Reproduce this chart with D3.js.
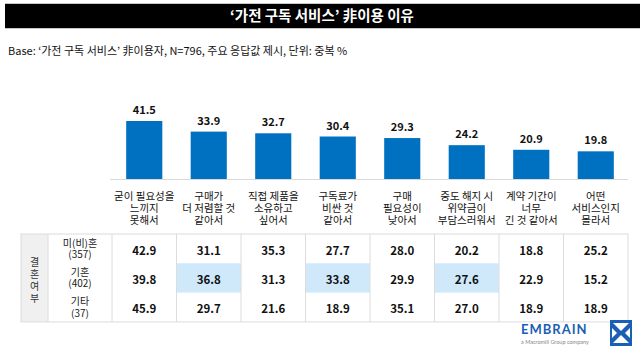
<!DOCTYPE html>
<html><head><meta charset="utf-8">
<script src="https://cdn.jsdelivr.net/npm/d3@7"></script>
<style>
html,body{margin:0;padding:0;background:#fff;}
svg{display:block;font-family:"Noto Sans CJK KR","Noto Sans",sans-serif;}
</style></head>
<body>
<svg id="chart" width="640" height="356"></svg>
<script>
const title = "‘가전 구독 서비스’ 非이용 이유";
const subtitle = "Base: ‘가전 구독 서비스’ 非이용자, N=796, 주요 응답값 제시, 단위: 중복 %";
const categories = [
  ["굳이 필요성을","느끼지","못해서"],
  ["구매가","더 저렴할 것","같아서"],
  ["직접 제품을","소유하고","싶어서"],
  ["구독료가","비싼 것","같아서"],
  ["구매","필요성이","낮아서"],
  ["중도 해지 시","위약금이","부담스러워서"],
  ["계약 기간이","너무","긴 것 같아서"],
  ["어떤","서비스인지","몰라서"]
];
const totals = [41.5, 33.9, 32.7, 30.4, 29.3, 24.2, 20.9, 19.8];
const groupTitle = ["결","혼","여","부"];
const rowLabels = [["미(비)혼","(357)"],["기혼","(402)"],["기타","(37)"]];
const unmarried = [42.9, 31.1, 35.3, 27.7, 28.0, 20.2, 18.8, 25.2];
const married   = [39.8, 36.8, 31.3, 33.8, 29.9, 27.6, 22.9, 15.2];
const others    = [45.9, 29.7, 21.6, 18.9, 35.1, 27.0, 18.9, 18.9];
const highlights = [[1,1],[1,3],[1,5]]; // [row, col]

const svg = d3.select("#chart");
const fmt = d3.format(".1f");

// title bar
svg.append("rect").attr("x",5).attr("y",3).attr("width",635).attr("height",26).attr("fill","#c8c8c8");
svg.append("rect").attr("x",5).attr("y",4).attr("width",635).attr("height",24).attr("fill","#000");
svg.append("text").attr("x",322).attr("y",21).attr("text-anchor","middle")
  .attr("fill","#fff").attr("font-size",14.5).attr("font-weight",700).text(title);
svg.append("text").attr("x",8).attr("y",55).attr("fill","#111")
  .attr("font-size",11).attr("font-weight",400).text(subtitle);

// scales
const x = d3.scaleBand().domain(d3.range(categories.length)).range([112, 628]).padding(0);
const y = d3.scaleLinear().domain([0, 41.5]).range([179, 121]);
const barW = x.bandwidth()*0.56;

// baseline
svg.append("line").attr("x1",110).attr("x2",628).attr("y1",y(0)+0.5).attr("y2",y(0)+0.5)
  .attr("stroke","#d9d9d9").attr("stroke-width",1);

svg.selectAll("rect.bar").data(totals).join("rect").attr("class","bar")
  .attr("x",(d,i)=>x(i)+x.bandwidth()/2-barW/2).attr("width",barW)
  .attr("y",d=>y(d)).attr("height",d=>y(0)-y(d)).attr("fill","#0070c0");

svg.selectAll("text.val").data(totals).join("text").attr("class","val")
  .attr("x",(d,i)=>x(i)+x.bandwidth()/2).attr("y",d=>y(d)-7)
  .attr("text-anchor","middle").attr("font-size",11).attr("font-weight",700).attr("fill","#111")
  .text(d=>fmt(d));

const catG = svg.selectAll("g.cat").data(categories).join("g").attr("class","cat");
catG.each(function(lines,i){
  lines.forEach((l,j)=>d3.select(this).append("text").attr("text-anchor","middle")
    .attr("font-size",10.5).attr("fill","#111")
    .attr("x",x(i)+x.bandwidth()/2).attr("y",199.5+j*12).text(l));
});

// table
const rows = [unmarried, married, others];
const tTop = 234, rowH = 29.3;
const rowY = d3.scaleBand().domain(d3.range(3)).range([tTop, tTop+3*rowH]);
const tbl = svg.append("g");
// group column
tbl.append("rect").attr("x",21).attr("y",tTop).attr("width",27).attr("height",3*rowH).attr("fill","#f0f0f0");
// highlights
highlights.forEach(([r,c])=>{
  tbl.append("rect").attr("x",x(c)).attr("y",rowY(r)).attr("width",x.bandwidth()).attr("height",rowY.bandwidth())
    .attr("fill","#cfe9fb");
});
// borders
const bc = "#dcdcdc";
tbl.append("rect").attr("x",21).attr("y",tTop).attr("width",628-21).attr("height",3*rowH)
  .attr("fill","none").attr("stroke",bc).attr("stroke-width",1);
[48,112].concat(d3.range(1,categories.length).map(i=>x(i))).forEach(xx=>{
  tbl.append("line").attr("x1",xx).attr("x2",xx).attr("y1",tTop).attr("y2",tTop+3*rowH)
    .attr("stroke",bc).attr("stroke-width",1);
});
// group title
groupTitle.forEach((c,j)=>tbl.append("text").attr("text-anchor","middle").attr("font-size",10).attr("fill","#333")
  .attr("x",34.5).attr("y",tTop+32+j*12).text(c));
// row labels
rowLabels.forEach((lab,r)=>{
  lab.forEach((l,j)=>tbl.append("text").attr("text-anchor","middle").attr("font-size",10).attr("fill","#222")
    .attr("x",80).attr("y",rowY(r)+12.5+j*11.5).text(l));
});
// values
rows.forEach((vals,r)=>{
  tbl.selectAll(null).data(vals).join("text")
    .attr("x",(d,i)=>x(i)+x.bandwidth()/2).attr("y",rowY(r)+rowY.bandwidth()/2+6)
    .attr("text-anchor","middle").attr("font-size",11.5).attr("font-weight",700).attr("fill","#111")
    .text(d=>fmt(d));
});

// logo
const logo = svg.append("g");
logo.append("text").attr("x",521).attr("y",334).attr("font-size",13).attr("font-weight",700)
  .attr("fill","#1a5fb4").attr("letter-spacing",1).attr("font-family","Lato, sans-serif").text("EMBRAIN");
logo.append("text").attr("x",521).attr("y",344).attr("font-size",5.5).attr("fill","#888")
  .attr("font-family","Lato, sans-serif").text("a Macromill Group company");
const ix=610, iy=320, s=22;
logo.append("rect").attr("x",ix).attr("y",iy).attr("width",s).attr("height",s+4).attr("fill","#1a5fb4");
const p = (pts)=>logo.append("path").attr("d","M"+pts.map(q=>q.join(",")).join("L")+"Z").attr("fill","#fff");
p([[ix+3,iy+3],[ix+s-3,iy+3],[ix+s/2,iy+11]]);
p([[ix+3,iy+s+1],[ix+s-3,iy+s+1],[ix+s/2,iy+s-7]]);
p([[ix+2,iy+8],[ix+7,iy+13],[ix+2,iy+18]]);
p([[ix+s-2,iy+8],[ix+s-7,iy+13],[ix+s-2,iy+18]]);
</script>
</body></html>
